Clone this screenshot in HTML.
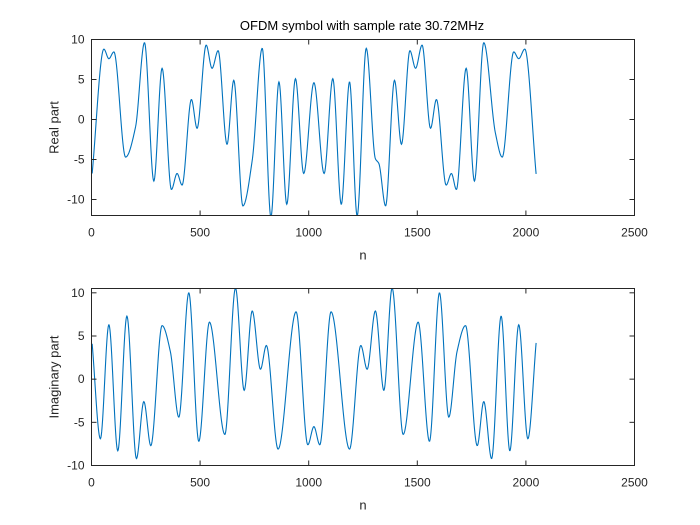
<!DOCTYPE html>
<html><head><meta charset="utf-8"><style>
html,body{margin:0;padding:0;background:#fff;}
svg{display:block;font-family:"Liberation Sans",Arial,sans-serif;}
</style></head><body>
<svg id="fig" width="700" height="525" viewBox="0 0 700 525">
<rect width="700" height="525" fill="#fff"/>
<text x="362" y="30" font-size="13" text-anchor="middle" fill="#000">OFDM symbol with sample rate 30.72MHz</text>
<g id="ax1"></g>
<g id="ax2"></g>
</svg>
<script>
const realN = [3,57,80,103,157,203,244,287,325,368,394,417,460,486,528,555,583,624,655,697,740,786,826,863,899,939,977,1024,1071,1111,1150,1188,1223,1265,1307,1323,1354,1395,1427,1466,1492,1522,1561,1588,1633,1657,1680,1725,1763,1806,1860,1891,1944,1967,1995,2047];
const realV = [-6.75,8.8,7.6,8.45,-4.7,-0.9,9.6,-7.7,6.4,-8.75,-6.75,-8.2,2.5,-1.1,9.3,6.4,8.6,-3.1,4.9,-10.8,-5.1,8.9,-12.2,4.7,-10.6,5.1,-6.75,4.6,-6.75,5.1,-10.6,4.7,-12.05,8.9,-4.9,-5.5,-10.8,4.9,-3.1,8.6,6.4,9.3,-1.1,2.5,-8.2,-6.75,-8.75,6.4,-7.7,9.6,-1.75,-4.7,8.45,7.6,8.8,-6.8];
const imagN = [3,41,80,121,163,207,241,273,325,363,402,448,494,543,614,663,703,740,778,805,859,942,996,1024,1051,1103,1188,1240,1269,1307,1346,1384,1435,1504,1556,1602,1645,1683,1722,1776,1806,1842,1886,1926,1967,2009,2047];
const imagV = [4.1,-6.9,6.3,-8.3,7.3,-9.2,-2.6,-7.7,6.2,3.2,-4.4,10.0,-7.2,6.6,-6.4,10.55,-1.3,7.9,1.15,3.9,-8.1,7.8,-7.6,-5.5,-7.6,7.8,-8.1,3.9,1.15,7.9,-1.3,10.55,-6.4,6.6,-7.2,10.0,-4.4,3.2,6.2,-7.7,-2.6,-9.2,7.3,-8.3,6.3,-6.9,4.2];
const xTicks = [0,500,1000,1500,2000,2500];
const yTicks1 = [-10,-5,0,5,10];
const yTicks2 = [-10,-5,0,5,10];

const NS="http://www.w3.org/2000/svg";
function mk(tag,attrs,parent){const e=document.createElementNS(NS,tag);for(const k in attrs)e.setAttribute(k,attrs[k]);parent.appendChild(e);return e;}

function monotone(xs,ys){
  const n=xs.length,d=[],m=new Array(n);
  for(let i=0;i<n-1;i++)d.push((ys[i+1]-ys[i])/(xs[i+1]-xs[i]));
  m[0]=d[0];m[n-1]=d[n-2];
  for(let i=1;i<n-1;i++){ if(d[i-1]*d[i]<=0)m[i]=0; else {const w1=2*(xs[i+1]-xs[i])+(xs[i]-xs[i-1]),w2=(xs[i+1]-xs[i])+2*(xs[i]-xs[i-1]);m[i]=(w1+w2)/(w1/d[i-1]+w2/d[i]);} }
  return function(x){let i=0;while(i<n-2&&x>xs[i+1])i++;const h=xs[i+1]-xs[i],t=(x-xs[i])/h,t2=t*t,t3=t2*t;
    return (2*t3-3*t2+1)*ys[i]+(t3-2*t2+t)*h*m[i]+(-2*t3+3*t2)*ys[i+1]+(t3-t2)*h*m[i+1];};
}

function drawAxes(g,id,L,R,T,B,ymin,ymax,yTicks,ns,vs,ylabel){
  const sx=v=>L+(v-0)/(2500-0)*(R-L);
  const sy=v=>B-(v-ymin)/(ymax-ymin)*(B-T);
  mk('rect',{x:L,y:T,width:R-L,height:B-T,fill:'#fff'},g);
  const cp=mk('clipPath',{id:'cp'+id},g);
  mk('rect',{x:L,y:T,width:R-L,height:B-T},cp);
  const f=monotone(ns,vs);
  let d='';
  for(let x=ns[0];x<=ns[ns.length-1];x+=2){d+=(d?'L':'M')+sx(x).toFixed(2)+','+sy(f(x)).toFixed(2);}
  const p=mk('path',{d:d,fill:'none',stroke:'#0072BD','stroke-width':1.1,'clip-path':'url(#cp'+id+')'},g);
  
  
  for(const t of xTicks){const x=sx(t);
    mk('line',{x1:x,x2:x,y1:B,y2:B-5,stroke:'#262626','stroke-width':1},g);
    mk('line',{x1:x,x2:x,y1:T,y2:T+5,stroke:'#262626','stroke-width':1},g);
    const tx=mk('text',{x:x,y:B+21,'font-size':12,'text-anchor':'middle',fill:'#262626'},g);tx.textContent=t;
    
    
  }
  for(const t of yTicks){const y=sy(t);
    mk('line',{x1:L,x2:L+5,y1:y,y2:y,stroke:'#262626','stroke-width':1},g);
    mk('line',{x1:R,x2:R-5,y1:y,y2:y,stroke:'#262626','stroke-width':1},g);
    const tx=mk('text',{x:L-7,y:y+4,'font-size':12,'text-anchor':'end',fill:'#262626'},g);tx.textContent=t;
    
    
  }
  mk('rect',{x:L,y:T,width:R-L,height:B-T,fill:'none',stroke:'#262626','stroke-width':1},g);
  const xl=mk('text',{x:(L+R)/2,y:B+44,'font-size':13,'text-anchor':'middle',fill:'#262626'},g);xl.textContent='n';
  
  
  const yl=mk('text',{x:0,y:0,'font-size':13,'text-anchor':'middle',fill:'#262626',transform:'translate('+(L-33)+','+((T+B)/2)+') rotate(-90)'},g);yl.textContent=ylabel;
  
  
}
drawAxes(document.getElementById('ax1'),1,91.5,634.5,39.5,215.5,-12,10,yTicks1,realN,realV,'Real part');
drawAxes(document.getElementById('ax2'),2,91.5,634.5,288.5,465.5,-10,10.5,yTicks2,imagN,imagV,'Imaginary part');
</script>
</body></html>
